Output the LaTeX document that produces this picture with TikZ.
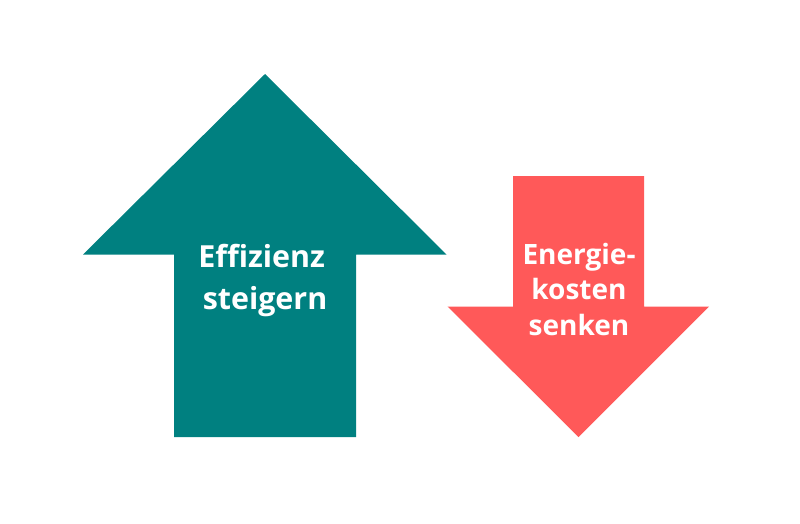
\documentclass[tikz,border=0pt]{standalone}
\usepackage{fontspec}
\setmainfont{Open Sans}[BoldFont={* Bold}]
\definecolor{tealarrow}{RGB}{0,128,128}
\definecolor{redarrow}{RGB}{255,89,89}
\begin{document}
\begin{tikzpicture}[x=1pt,y=-1pt,
  label/.style={text=white, font=\bfseries, align=center, inner sep=0pt}]
\useasboundingbox[fill=white] (0,0) rectangle (800,523);
% teal up arrow
\fill[tealarrow] (265,74) -- (446.5,254.5) -- (356,254.5) -- (356,437) -- (174,437) -- (174,254.5) -- (83,254.5) -- cycle;
% red down arrow
\fill[redarrow] (513,176) -- (644,176) -- (644,306.5) -- (709,306.5) -- (578.5,437) -- (447.5,306.5) -- (513,306.5) -- cycle;
\node[label, font=\bfseries\fontsize{30.4}{41.3}\selectfont] (eff) at (265,280.5) {Effizienz\hspace*{0.22em}\\steigern};
\node[label, font=\bfseries\fontsize{28}{35.5}\selectfont] (ene) at (579,289) {Energie-\\kosten\hspace*{0.26em}\\senken};
\end{tikzpicture}
\end{document}
